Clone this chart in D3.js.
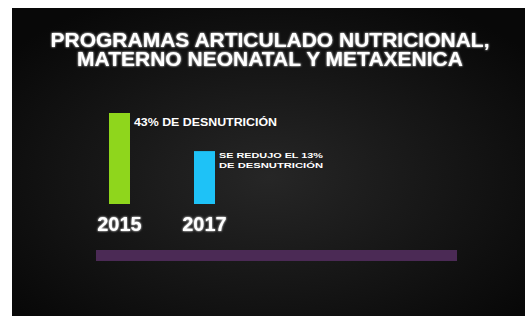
<!DOCTYPE html>
<html>
<head>
<meta charset="utf-8">
<script src="https://cdn.jsdelivr.net/npm/d3@7"></script>
<style>
  html, body { margin: 0; padding: 0; background: #fff; }
  svg { display: block; }
  text { font-family: "Liberation Sans", Arial, sans-serif; font-weight: bold; fill: #fff; }
</style>
</head>
<body>
<script>
// chart data
var years = ["2015", "2017"];
var values = [43, 25];
var barColors = ["#8fd61c", "#1ec2f7"];
var notes = [["43% DE DESNUTRICIÓN"], ["SE REDUJO EL 13%", "DE DESNUTRICIÓN"]];
var titleLines = ["PROGRAMAS ARTICULADO NUTRICIONAL,", "MATERNO NEONATAL Y METAXENICA"];

var W = 525, H = 316;

var svg = d3.select("body").append("svg")
    .attr("width", W)
    .attr("height", H);

var defs = svg.append("defs");
var grad = defs.append("radialGradient")
    .attr("id", "bg")
    .attr("cx", "50%").attr("cy", "55%").attr("r", "65%");
grad.append("stop").attr("offset", "0%").attr("stop-color", "#262626");
grad.append("stop").attr("offset", "100%").attr("stop-color", "#080808");

var glow = defs.append("filter").attr("id", "glow")
    .attr("x", "-5%").attr("y", "-20%").attr("width", "110%").attr("height", "140%");
glow.append("feGaussianBlur").attr("stdDeviation", 1.2).attr("result", "b");
var merge = glow.append("feMerge");
merge.append("feMergeNode").attr("in", "b");
merge.append("feMergeNode").attr("in", "SourceGraphic");

// dark slide background
svg.append("rect")
    .attr("x", 12).attr("y", 8)
    .attr("width", W - 12).attr("height", H - 8)
    .attr("fill", "url(#bg)");

// title
svg.append("g").selectAll("text")
    .data(titleLines)
  .enter().append("text")
    .attr("x", 270)
    .attr("y", function(d, i) { return 47 + i * 19; })
    .attr("text-anchor", "middle")
    .attr("filter", "url(#glow)")
    .style("font-size", "21px")
    .text(function(d) { return d; });

// scales
var x = d3.scaleBand()
    .domain(years)
    .range([109, 215])
    .paddingInner(0.753)
    .paddingOuter(0);
var y = d3.scaleLinear()
    .domain([0, 43])
    .range([204, 113]);

// bars
svg.append("g").selectAll("rect")
    .data(years)
  .enter().append("rect")
    .attr("x", function(d) { return x(d); })
    .attr("width", x.bandwidth())
    .attr("y", function(d, i) { return y(values[i]); })
    .attr("height", function(d, i) { return y(0) - y(values[i]); })
    .attr("fill", function(d, i) { return barColors[i]; });

// year labels
svg.append("g").selectAll("text")
    .data(years)
  .enter().append("text")
    .attr("x", function(d) { return x(d) + x.bandwidth() / 2; })
    .attr("y", 231)
    .attr("text-anchor", "middle")
    .attr("filter", "url(#glow)")
    .style("font-size", "20px")
    .text(function(d) { return d; });

// notes beside bars
var noteSize = [11, 8];
var noteWidth = [143, 104];
years.forEach(function(d, i) {
  svg.append("g").selectAll("text")
      .data(notes[i])
    .enter().append("text")
      .attr("x", x(d) + x.bandwidth() + 4)
      .attr("y", function(t, j) { return y(values[i]) + (i === 0 ? 13 : 7) + j * 9.5; })
      .attr("textLength", noteWidth[i])
      .attr("lengthAdjust", "spacingAndGlyphs")
      .style("font-size", noteSize[i] + "px")
      .text(function(t) { return t; });
});

// purple bar under the chart
svg.append("rect")
    .attr("x", 96).attr("y", 250)
    .attr("width", 361).attr("height", 11)
    .attr("fill", "#4b2a55");
</script>
</body>
</html>
